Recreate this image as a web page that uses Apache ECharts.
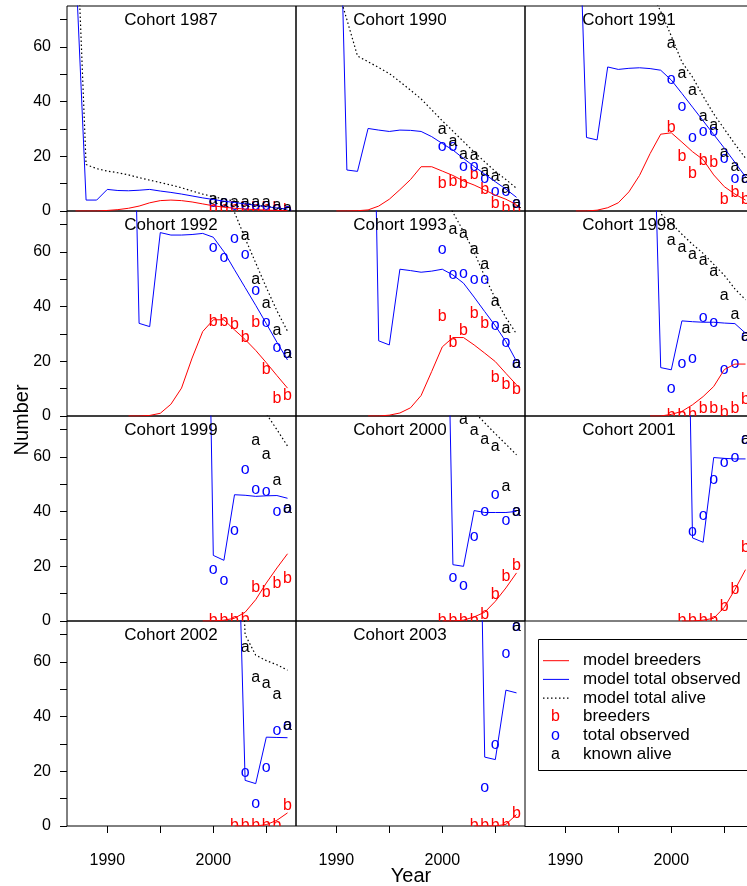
<!DOCTYPE html>
<html>
<head>
<meta charset="utf-8">
<script src="https://cdn.jsdelivr.net/npm/echarts@6/dist/echarts.min.js"></script>
<style>
html,body{margin:0;padding:0;background:#fff;}
#chart{width:747px;height:886px;}
</style>
</head>
<body>
<div id="chart"></div>
<script>
// panels, left->right, top->bottom
var cohorts = [1987, 1990, 1991, 1992, 1993, 1998, 1999, 2000, 2001, 2002, 2003];
var obsYears = [2000, 2001, 2002, 2003, 2004, 2005, 2006, 2007];

// model curves: one value per year, cohort year .. 2007
var modelBreeders = [
    [0, 0, 0, 0.2, 0.5, 1, 1.8, 3, 3.8, 4, 3.8, 3.3, 2.6, 1.9, 1.4, 1.0, 0.7, 0.5, 0.3, 0.2, 0.1],
    [0, 0, 0.1, 0.4, 1.8, 4.3, 7.8, 11.5, 16.2, 16.2, 14.6, 13, 11, 9.5, 7.7, 5.8, 4.3, 2.3],
    [0, 0, 0.3, 1.2, 3.0, 7, 13, 21, 28.1, 28.6, 25.2, 21.7, 18.8, 13.2, 8.9, 6.2, 4.0],
    [0, 0, 0.2, 1, 4.3, 10.2, 21.2, 30.9, 35.2, 35.2, 31.5, 28, 24, 19.5, 14.8, 10.2],
    [0, 0, 0.3, 1.1, 3, 7.5, 16.3, 25.3, 28.7, 28.7, 26, 23, 19.9, 15.6, 11.4],
    [0, 0, 0.6, 1.7, 4.1, 7.1, 10.8, 17.0, 19.0, 19.0],
    [0, 0, 0.3, 1, 3.2, 7.8, 13.9, 19.4, 24.6],
    [0, 0, 0.3, 1.5, 3.2, 7.2, 12.1, 17.6],
    [0, 0, 0.3, 1, 5, 11.5, 18.8],
    [0, 0, 0, 0.5, 2.1, 4.8],
    [0, 0, 0, 0.6, 4.2]
];
var modelObserved = [
    [92, 4, 4, 7.9, 7.5, 7.4, 7.6, 7.9, 7.3, 6.8, 6.2, 5.5, 4.8, 4.2, 3.6, 3.1, 2.6, 2.1, 1.6, 1.1, 0.7],
    [170, 15, 14.5, 30.2, 29.6, 29.1, 29.6, 29.5, 29.1, 27.2, 24.7, 22.3, 19.2, 16.3, 13.5, 10.7, 8, 5],
    [147, 26.9, 26, 52.7, 51.8, 52.2, 52.4, 52.1, 51.5, 47.9, 43, 38, 33, 28, 23, 17.8, 12.5],
    [210, 33.9, 32.7, 67.1, 66.2, 66.2, 66.4, 66.8, 65.4, 60.1, 53.5, 47, 40.5, 33.8, 27, 20.5],
    [240, 27.5, 26, 53.7, 53.2, 52.6, 53, 53.7, 51.6, 48.6, 43.5, 38.2, 33, 27.2, 20],
    [160, 17.7, 16.9, 34.8, 34.5, 34.3, 34.3, 34, 33.8, 30.3],
    [250, 24, 22.2, 46.2, 46, 45.6, 45.8, 45.9, 44.9],
    [220, 20.6, 20, 40.4, 39.7, 39.7, 39.7, 40.1],
    [250, 30.4, 28.8, 59.8, 59.5, 59.3, 59.3],
    [160, 16.7, 15.5, 32.5, 32.4, 32.3],
    [245, 25.2, 24.3, 49.7, 48.7]
];
var modelAlive = [
    [115, 17, 15.5, 14.6, 14, 13.2, 12.2, 11.3, 10.4, 9.5, 8.5, 7.3, 6.2, 5.2, 4.4, 3.6, 2.9, 2.2, 1.6, 1.0, 0.5],
    [83, 70, 56.7, 54.6, 52.5, 50.3, 47.3, 44.2, 41, 37, 33, 29.2, 25.4, 21.6, 18, 14.5, 11.5, 8.3],
    [147, 120, 110, 102, 97, 92, 87, 81, 73, 64, 54.5, 49, 42, 35.5, 30, 24.5, 19.3],
    [210, 150, 140, 132, 125, 118, 110, 101, 93, 84, 74.5, 65, 56, 47, 38.5, 31],
    [240, 150, 135, 122, 110, 100, 90, 82, 74.5, 67.5, 60, 51, 43, 36, 30],
    [160, 74, 70.5, 66.5, 62.8, 59.5, 55.5, 51.5, 46.5, 42.5],
    [250, 110, 100, 92, 86, 80, 75.8, 70, 64],
    [220, 95, 85, 76.5, 72.5, 68.5, 64.7, 60.8],
    [250, 110, 100, 92, 88, 84, 80],
    [160, 70, 62.5, 60.5, 59, 57],
    [245, 120, 105, 95, 85]
];

// observations 2000..2007
var breeders = [
    [1, 1, 1, 1, 1, 1, 1, 0],
    [10.1, 10.7, 9.9, 13.2, 7.7, 2.8, 1.0, 0.4],
    [30.5, 19.9, 13.8, 18.4, 17.7, 4.0, 6.7, 4.0],
    [34.5, 34.5, 33.6, 28.7, 34.0, 16.9, 6.5, 7.5],
    [36.4, 27.0, 31.1, 37.6, 33.9, 14.1, 11.4, 9.6],
    [0, 0, 0.5, 2.6, 2.6, 1.1, 2.6, 5.9],
    [0, 0, 0, 0.5, 12.1, 10.5, 13.7, 15.4],
    [0, 0, 0, 0, 2.3, 9.6, 16.3, 20.2],
    [null, 0, 0, 0, 0, 5.4, 11.5, 26.7],
    [null, null, 0, 0, 0, 0, 0, 7.3],
    [null, null, null, 0, 0, 0, 0, 4.5]
];
var totalObserved = [
    [3, 3, 2, 2, 2, 2, 1, 0],
    [23.6, 23.6, 16.2, 16.2, 11.9, 7.1, 7.1, 2.6],
    [47.9, 38.1, 26.9, 29.0, 29.0, 19.3, 11.9, 12],
    [61.7, 57.9, 65.0, 58.9, 45.8, 34.3, 25.0, 23.0],
    [60.7, 51.8, 52.0, 49.8, 49.8, 33.1, 27.0, 19.0],
    [9.9, 19.0, 20.9, 36.0, 34.0, 16.9, 19.0, 29.1],
    [18.8, 14.8, 33.2, 55.3, 48.0, 47.4, 39.9, 41.1],
    [null, 15.7, 12.9, 30.7, 40.1, 46.2, 36.8, 40.1],
    [null, null, 32.8, 38.5, 51.9, 58.1, 59.6, 66.5],
    [null, null, null, 19.5, 8.2, 21.5, 34.9, 36.8],
    [null, null, null, null, 14.0, 29.8, 63.0, 73.1]
];
var knownAlive = [
    [4, 3, 3, 3, 3, 3, 2, 1],
    [29.6, 25.3, 20.8, 20.1, 14.4, 12.5, 8.3, 2.6],
    [61.3, 50.1, 44.0, 34.7, 31.1, 21.3, 16.2, 11.9],
    [null, null, null, 65.9, 49.8, 41.3, 31.1, 23.0],
    [null, 68.1, 66.8, 60.7, 55.5, 41.9, 32.1, 19.0],
    [64.0, 61.6, 58.9, 56.7, 52.8, 44.0, 37.2, 29.1],
    [null, null, null, null, 65.9, 60.8, 51.3, 41.1],
    [null, null, 73.6, 69.7, 66.5, 63.9, 49.2, 40.1],
    [null, null, null, null, null, null, null, 66.5],
    [null, null, null, 65.4, 54.2, 52.1, 48.1, 36.8],
    [null, null, null, null, null, null, null, 73.1]
];

var xTickYears = [1990, 1995, 2000, 2005];
var xLabelYears = [1990, 2000];
var yTicks = [0, 10, 20, 30, 40, 50, 60, 70];
var yLabels = [0, 20, 40, 60];
var legendLabels = ['model breeders', 'model total observed', 'model total alive', 'breeders', 'total observed', 'known alive'];

var font = 'Liberation Sans, Arial, Helvetica, sans-serif';
var RED = '#ff0000', BLUE = '#0000ff', BLACK = '#000000';
var colLeft = [67, 296, 525], rowTop = [6, 211, 416, 621];
var panelW = 229, panelH = 205;
var dotDash = [1.5, 2.5];

function modelData(p, arr) {
    return arr[p].map(function (v, k) { return [cohorts[p] + k, v]; });
}
function obsData(p, arr) {
    var out = [];
    arr[p].forEach(function (v, k) { if (v !== null) out.push([obsYears[k], v]); });
    return out;
}
// letters as point marks, clipped to the panel like lattice does
function glyphSeries(p, arr, ch, color) {
    return {
        type: 'custom', xAxisIndex: p, yAxisIndex: p, data: obsData(p, arr),
        clip: true, silent: true,
        renderItem: function (params, api) {
            var pt = api.coord([api.value(0), api.value(1)]);
            return {
                type: 'text', x: pt[0], y: pt[1],
                style: { text: ch, fill: color, fontSize: 16, fontFamily: font, align: 'center', verticalAlign: 'middle' }
            };
        }
    };
}

var grids = [], xAxes = [], yAxes = [], series = [], graphics = [];
for (var p = 0; p < 12; p++) {
    var col = p % 3, row = Math.floor(p / 3);
    var isPanel = p < cohorts.length;
    grids.push({
        left: colLeft[col], top: rowTop[row], width: panelW, height: panelH,
        show: isPanel, borderColor: '#000', borderWidth: 1, backgroundColor: 'transparent',
        containLabel: false, outerBoundsMode: 'none'
    });
    xAxes.push({
        gridIndex: p, type: 'value', min: 1986.2, max: 2007.8,
        splitLine: { show: false },
        axisLine: { show: !isPanel, onZero: false, lineStyle: { color: '#000', width: 1 } },
        axisTick: { show: row === 3, customValues: xTickYears, length: 7, lineStyle: { color: '#000' } },
        axisLabel: { show: row === 3, customValues: xLabelYears, margin: 27, fontSize: 16, color: '#000', fontFamily: font,
            formatter: function (v) { return String(v); } }
    });
    yAxes.push({
        gridIndex: p, type: 'value', min: 0, max: 75, show: isPanel,
        splitLine: { show: false },
        axisLine: { show: false },
        axisTick: { show: col === 0, customValues: yTicks, length: 7, lineStyle: { color: '#000' } },
        axisLabel: { show: col === 0, customValues: yLabels, margin: 16, fontSize: 16, color: '#000', fontFamily: font }
    });
    if (!isPanel) continue;

    series.push({ type: 'line', xAxisIndex: p, yAxisIndex: p, data: modelData(p, modelBreeders),
        symbol: 'none', lineStyle: { color: RED, width: 1 }, silent: true });
    series.push({ type: 'line', xAxisIndex: p, yAxisIndex: p, data: modelData(p, modelObserved),
        symbol: 'none', lineStyle: { color: BLUE, width: 1 }, silent: true });
    series.push({ type: 'line', xAxisIndex: p, yAxisIndex: p, data: modelData(p, modelAlive),
        symbol: 'none', lineStyle: { color: BLACK, width: 1.2, type: dotDash }, silent: true });

    series.push(glyphSeries(p, breeders, 'b', RED));
    series.push(glyphSeries(p, totalObserved, 'o', BLUE));
    series.push(glyphSeries(p, knownAlive, 'a', BLACK));

    // strip text
    graphics.push({
        type: 'text', x: colLeft[col] + 104, y: rowTop[row] + 14, z: 10,
        style: { text: 'Cohort ' + cohorts[p], fontSize: 17, fontFamily: font, fill: '#000', align: 'center', verticalAlign: 'middle' }
    });
}

// axis titles
graphics.push({ type: 'text', x: 22, y: 420, rotation: Math.PI / 2,
    style: { text: 'Number', fontSize: 20, fontFamily: font, fill: '#000', align: 'center', verticalAlign: 'middle' } });
graphics.push({ type: 'text', x: 411, y: 876,
    style: { text: 'Year', fontSize: 20, fontFamily: font, fill: '#000', align: 'center', verticalAlign: 'middle' } });

// legend box
var lgX = 538.5, lgY = 639.5, rowH = 18.7, firstRow = 660.7;
graphics.push({ type: 'rect', shape: { x: lgX, y: lgY, width: 240, height: 131 },
    style: { fill: '#fff', stroke: '#000', lineWidth: 1 }, z: 5 });
var legendMarks = [
    { kind: 'line', color: RED }, { kind: 'line', color: BLUE }, { kind: 'dot', color: BLACK },
    { kind: 'b', color: RED }, { kind: 'o', color: BLUE }, { kind: 'a', color: BLACK }
];
legendLabels.forEach(function (txt, i) {
    var y = firstRow + i * rowH;
    var m = legendMarks[i];
    if (m.kind === 'line' || m.kind === 'dot') {
        graphics.push({ type: 'line', z: 6, shape: { x1: 543, y1: y, x2: 569, y2: y },
            style: { stroke: m.color, lineWidth: m.kind === 'dot' ? 1.2 : 1, lineDash: m.kind === 'dot' ? dotDash : null } });
    } else {
        graphics.push({ type: 'text', z: 6, x: 555.5, y: y,
            style: { text: m.kind, fontSize: 16, fontFamily: font, fill: m.color, align: 'center', verticalAlign: 'middle' } });
    }
    graphics.push({ type: 'text', z: 6, x: 583, y: y,
        style: { text: txt, fontSize: 17, fontFamily: font, fill: '#000', align: 'left', verticalAlign: 'middle' } });
});

var myChart = echarts.init(document.getElementById('chart'));
myChart.setOption({
    animation: false,
    backgroundColor: '#fff',
    grid: grids,
    xAxis: xAxes,
    yAxis: yAxes,
    series: series,
    graphic: graphics
});
</script>
</body>
</html>
